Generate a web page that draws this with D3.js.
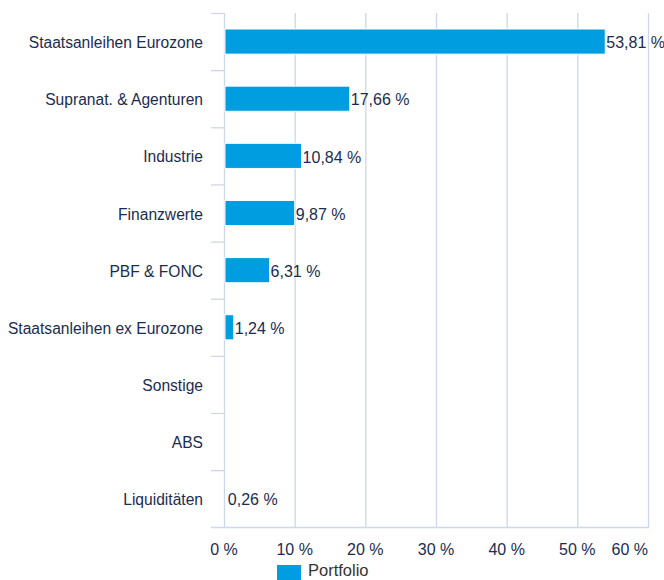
<!DOCTYPE html>
<html><head><meta charset="utf-8">
<script src="https://cdn.jsdelivr.net/npm/d3@7"></script>
<style>body{margin:0;background:#fff;} svg{display:block;font-family:"Liberation Sans",Arial,sans-serif;}</style>
</head><body>
<svg id="c" width="664" height="580"></svg>
<script>
const categories = ["Staatsanleihen Eurozone","Supranat. & Agenturen","Industrie","Finanzwerte","PBF & FONC","Staatsanleihen ex Eurozone","Sonstige","ABS","Liquiditäten"];
const values = [53.81, 17.66, 10.84, 9.87, 6.31, 1.24, 0, 0, 0.26];
const valueLabels = ["53,81 %","17,66 %","10,84 %","9,87 %","6,31 %","1,24 %","","","0,26 %"];
const ticks = [0,10,20,30,40,50,60];
const tickLabels = ["0 %","10 %","20 %","30 %","40 %","50 %","60 %"];
const seriesName = "Portfolio";

const svg = d3.select("#c");
const navy = "#1b2c52", grid = "#ccd7e8", blue = "#009ee0";
const x = d3.scaleLinear().domain([0,60]).range([224,648]);
const y = d3.scaleBand().domain(categories).range([13,527.3]).paddingInner(0.56).paddingOuter(0.28);
const step = y.step(), top0 = 13;

// gridlines
svg.append("g").selectAll("line").data(ticks).join("line")
  .attr("x1",d=>x(d)+0.5).attr("x2",d=>x(d)+0.5).attr("y1",top0).attr("y2",527.3)
  .attr("stroke",grid).attr("stroke-width",1.3);
// category ticks
const bounds = d3.range(categories.length+1).map(i=>top0+i*step);
svg.append("g").selectAll("line").data(bounds.slice(0,-1)).join("line")
  .attr("x1",211).attr("x2",x(0)).attr("y1",d=>d+0.5).attr("y2",d=>d+0.5)
  .attr("stroke",grid).attr("stroke-width",1.3);
svg.append("line").attr("x1",211).attr("x2",x(60)+1).attr("y1",527.5).attr("y2",527.5)
  .attr("stroke",grid).attr("stroke-width",1.5);

// bars
const data = categories.map((c,i)=>({c,v:values[i],l:valueLabels[i]}));
svg.append("g").selectAll("rect").data(data.filter(d=>d.v>0.5)).join("rect")
  .attr("x",x(0)+1).attr("y",d=>y(d.c)).attr("height",y.bandwidth())
  .attr("width",d=>Math.max(0,x(d.v)-x(0)))
  .attr("fill",blue).attr("stroke","#fff").attr("stroke-width",1);

// value labels
svg.append("g").selectAll("text").data(data.filter(d=>d.l)).join("text")
  .attr("x",d=>x(d.v)+2).attr("y",d=>y(d.c)+y.bandwidth()/2+1).attr("dy","0.36em")
  .attr("fill",navy).attr("font-size",16).text(d=>d.l);

// category labels
svg.append("g").selectAll("text").data(categories).join("text")
  .attr("x",203).attr("y",d=>y(d)+y.bandwidth()/2+1).attr("dy","0.36em")
  .attr("text-anchor","end").attr("fill",navy).attr("font-size",15.6).text(d=>d);

// x tick labels
svg.append("g").selectAll("text").data(ticks).join("text")
  .attr("x",(d,i)=> i===ticks.length-1 ? 648 : x(d)).attr("y",555)
  .attr("text-anchor",(d,i)=> i===ticks.length-1 ? "end" : "middle")
  .attr("fill",navy).attr("font-size",16).text((d,i)=>tickLabels[i]);

// legend
svg.append("rect").attr("x",277).attr("y",565).attr("width",24).attr("height",15).attr("fill",blue);
svg.append("text").attr("x",308).attr("y",576).attr("fill","#333").attr("font-size",16.5).text(seriesName);
</script>
</body></html>
